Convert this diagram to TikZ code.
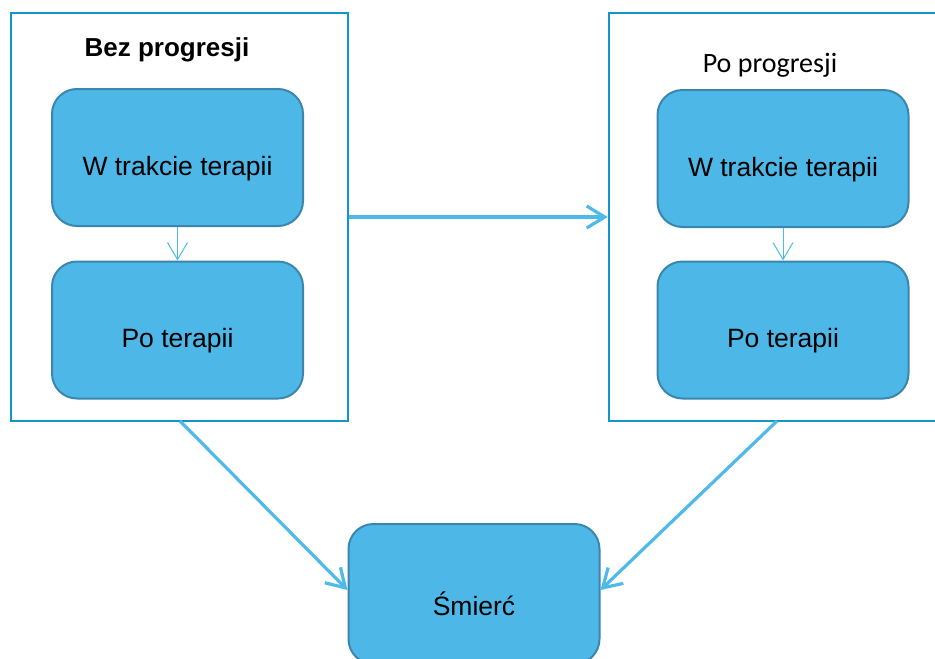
\documentclass[tikz,border=0pt]{standalone}
\usepackage{fontspec}
\setmainfont{Liberation Sans}
\newfontfamily\calib{Carlito}
\usetikzlibrary{arrows.meta}
\definecolor{boxfill}{HTML}{4DB8E8}
\definecolor{boxedge}{HTML}{3B86AE}
\definecolor{frameedge}{HTML}{1296C8}
\definecolor{arrowcol}{HTML}{4DBAEA}
\tikzset{
  frame/.style={draw=frameedge, line width=2.5pt, fill=white, rectangle, inner sep=0pt},
  stbox/.style={draw=boxedge, line width=2pt, fill=boxfill, rounded corners=25pt,
    minimum width=251pt, minimum height=137pt, inner sep=0pt,
    font=\fontsize{26.5}{30}\selectfont, text height=35pt, text depth=0pt},
  bigarrow/.style={draw=arrowcol, line width=3.2pt, -{Straight Barb[length=18pt,width=22pt,line width=3.2pt]}},
  thinarrow/.style={draw=arrowcol, line width=1pt, -{Straight Barb[length=17pt,width=20pt,line width=1pt]}},
}
\begin{document}
\begin{tikzpicture}[x=1pt,y=-1pt]
\useasboundingbox (0,0) rectangle (935,659);
\node[frame, minimum width=337pt, minimum height=408pt] (lframe) at (179.5,217) {};
\node[frame, minimum width=336pt, minimum height=408pt] (rframe) at (777,217) {};
\node[font=\bfseries\fontsize{26}{30}\selectfont] (ltitle) at (167,50) {Bez progresji};
\node[font=\calib\fontsize{28}{32}\selectfont] (rtitle) at (770,65) {Po progresji};
\node[stbox] (b1) at (177.5,157.5) {W trakcie terapii};
\node[stbox] (b2) at (177.5,330) {Po terapii};
\node[stbox] (b3) at (783,158.5) {W trakcie terapii};
\node[stbox] (b4) at (783,330) {Po terapii};
\node[stbox, minimum height=140pt, text height=42pt] (death) at (474,594) {Śmierć};
\draw[thinarrow] (b1.south) -- (b2.north);
\draw[thinarrow] (b3.south) -- (b4.north);
\coordinate (hstart) at (lframe.east |- 0,217);
\coordinate (hend) at (rframe.west |- 0,217);
\draw[bigarrow] (hstart) -- (hend);
\coordinate (lstart) at (180,421);
\coordinate (rstart) at (777,421);
\coordinate (lend) at (death.west |- 0,590);
\coordinate (rend) at (death.east |- 0,590);
\draw[bigarrow] (lstart) -- (lend);
\draw[bigarrow] (rstart) -- (rend);
\end{tikzpicture}
\end{document}
